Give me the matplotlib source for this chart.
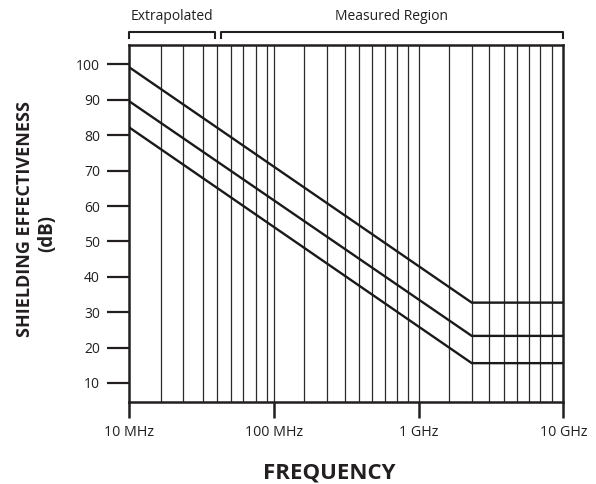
import matplotlib
matplotlib.use("Agg")
import matplotlib.pyplot as plt
import matplotlib.transforms as mtransforms

# ---- data ----
freq_mhz = [10, 2330, 10000]               # frequency points (MHz)
se_upper = [99.2, 32.7, 32.7]              # shielding effectiveness (dB)
se_middle = [89.6, 23.3, 23.3]
se_lower = [82.2, 15.6, 15.6]

grid_mhz = [16.6, 23.7, 32.3, 40.4, 50.7, 61.4, 74.7, 89.1, 100,
            162, 231, 312, 385, 474, 586, 714, 848, 1000,
            1611, 2327, 3050, 3879, 4778, 5812, 6945, 8421]

xtick_vals = [10, 100, 1000, 10000]
xtick_labels = ["10 MHz", "100 MHz", "1 GHz", "10 GHz"]
ytick_vals = [10, 20, 30, 40, 50, 60, 70, 80, 90, 100]

regions = [("Extrapolated", 10, 39), ("Measured Region", 43, 9900)]

# ---- figure ----
plt.rcParams['font.family'] = ['Open Sans', 'DejaVu Sans']
fig = plt.figure(figsize=(5.96, 4.84), dpi=100)
ax = fig.add_axes([0.2169, 0.170, 0.9451 - 0.2169, 0.907 - 0.170])

ax.set_xscale('log')
ax.set_xlim(10, 10000)
ax.set_ylim(4.7, 105.5)

for g in grid_mhz:
    ax.axvline(g, color='#2a2a2a', lw=0.9, zorder=1)

for s in (se_upper, se_middle, se_lower):
    ax.plot(freq_mhz, s, color='#1a1a1a', lw=1.7, zorder=3, solid_joinstyle='miter')

for sp in ax.spines.values():
    sp.set_linewidth(1.8)
    sp.set_color('#231f20')

ax.set_xticks(xtick_vals)
ax.set_xticklabels(xtick_labels)
ax.xaxis.set_minor_locator(matplotlib.ticker.NullLocator())
ax.set_yticks(ytick_vals)
ax.set_yticklabels([str(v) for v in ytick_vals])
ax.tick_params(axis='y', direction='out', length=16, width=1.6, pad=5,
               labelsize=10, colors='#231f20')
ax.tick_params(axis='x', direction='out', length=11.5, width=1.8, pad=5,
               labelsize=10.3, colors='#231f20')

ax.set_xlabel("FREQUENCY", fontsize=16, fontweight='bold', color='#231f20')
ax.xaxis.set_label_coords(0.4603, -0.199)
ax.xaxis.label.set_va('center')

ax.set_ylabel("SHIELDING EFFECTIVENESS", fontsize=13, fontweight='bold',
              color='#231f20')
ax.yaxis.set_label_coords(-0.2392, 0.5122)
ax.yaxis.label.set_va('center')
ax.text(-0.1885, 0.4729, "(dB)", transform=ax.transAxes, rotation=90,
        ha='center', va='center', fontsize=13.5, fontweight='bold',
        color='#231f20')

trans = mtransforms.blended_transform_factory(ax.transData, ax.transAxes)
for name, x0, x1 in regions:
    ax.plot([x0, x0, x1, x1], [1.021, 1.037, 1.037, 1.021], transform=trans,
            color='#231f20', lw=1.5, clip_on=False)
    xm = (x0 * x1) ** 0.5
    ax.text(xm, 1.079, name, transform=trans, ha='center', va='center',
            fontsize=10, color='#231f20')

fig.savefig("out.png", dpi=100)
